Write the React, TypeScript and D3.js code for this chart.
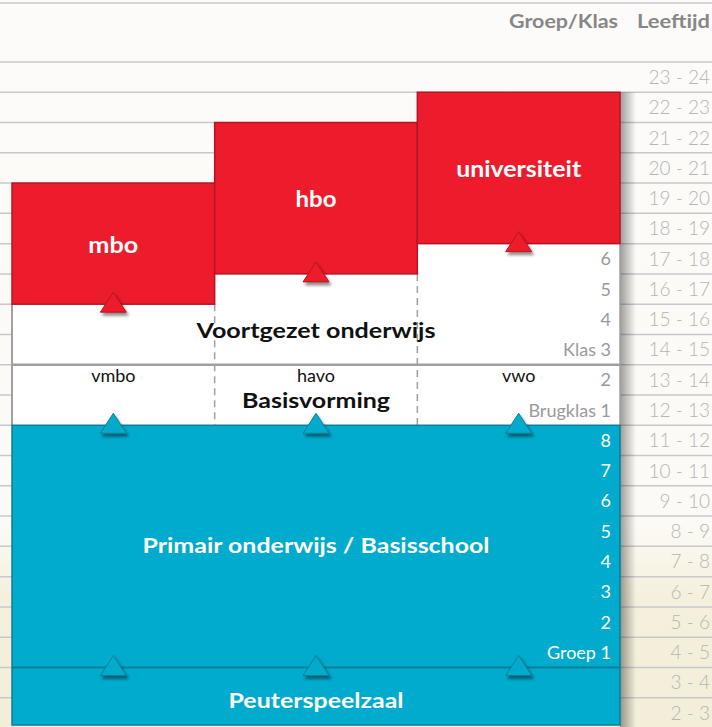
import * as d3 from "d3";

// age rows (lower bound of each one-year band), top to bottom
const ageRows = [23, 22, 21, 20, 19, 18, 17, 16, 15, 14, 13, 12, 11, 10, 9, 8, 7, 6, 5, 4, 3, 2];
const ageLabels = [
  "23 - 24", "22 - 23", "21 - 22", "20 - 21", "19 - 20", "18 - 19", "17 - 18", "16 - 17",
  "15 - 16", "14 - 15", "13 - 14", "12 - 13", "11 - 12", "10 - 11", "9 - 10", "8 - 9",
  "7 - 8", "6 - 7", "5 - 6", "4 - 5", "3 - 4", "2 - 3",
];

const tracks = ["vmbo", "havo", "vwo"];

// higher education blocks: start / end age
const higherNames = ["mbo", "hbo", "universiteit"];
const higherFrom = [16, 17, 18];
const higherTo = [20, 22, 23];

// klas labels in secondary school
const klasAges = [17, 16, 15, 14, 13, 12];
const klasLabels = ["6", "5", "4", "Klas 3", "2", "Brugklas 1"];

// groep labels in primary school
const groepAges = [11, 10, 9, 8, 7, 6, 5, 4];
const groepLabels = ["8", "7", "6", "5", "4", "3", "2", "Groep 1"];

const RED = "#ed1c2c";
const RED_DARK = "#b51424";
const BLUE = "#00abcd";
const BLUE_DARK = "#0a7f98";
const FONT = "Lato, 'Open Sans', sans-serif";

// rendered widths of the bold labels (Gill Sans is wider than Lato)
const higherWidths = [50, 41, 125];

export default function App() {
  const W = 712;
  const H = 727;
  const y = d3.scaleLinear().domain([24, 2]).range([62, 728]);
  const x = d3.scaleBand().domain(tracks).range([12, 620]);
  const left = 12;
  const right = 620;
  const cx = (t: string) => (x(t) ?? 0) + x.bandwidth() / 2;

  const tri = (px: number, py: number) =>
    d3.line()([
      [px - 13, py + 8],
      [px, py - 12],
      [px + 13, py + 8],
      [px - 13, py + 8],
    ]) as string;

  return (
    <svg width={W} height={H} style={{ display: "block", position: "absolute", left: 0, top: 0 }}>
      <defs>
        <linearGradient id="bg" x1="0" y1="0" x2="0" y2="1">
          <stop offset="0" stopColor="#fcfbf9" />
          <stop offset="0.72" stopColor="#fbfaf6" />
          <stop offset="0.82" stopColor="#f5f0dd" />
          <stop offset="1" stopColor="#f3eed8" />
        </linearGradient>
        <linearGradient id="sh" x1="0" y1="0" x2="1" y2="0">
          <stop offset="0" stopColor="#000" stopOpacity="0.38" />
          <stop offset="1" stopColor="#000" stopOpacity="0" />
        </linearGradient>
        <filter id="ds" x="-50%" y="-50%" width="200%" height="200%">
          <feDropShadow dx="2" dy="3" stdDeviation="1.8" floodColor="#000" floodOpacity="0.45" />
        </filter>
      </defs>

      <rect width={W} height={H} fill="url(#bg)" />

      {/* header */}
      <line x1={0} x2={W} y1={3} y2={3} stroke="#c8c8cc" strokeWidth={1.5} />
      <text x={618} y={28} textAnchor="end" fill="#878787" fontFamily={FONT} fontWeight={700} fontSize={19} textLength={109} lengthAdjust="spacingAndGlyphs">
        Groep/Klas
      </text>
      <text x={710} y={28} textAnchor="end" fill="#878787" fontFamily={FONT} fontWeight={700} fontSize={19} textLength={73} lengthAdjust="spacingAndGlyphs">
        Leeftijd
      </text>

      {/* row lines */}
      <line x1={0} x2={W} y1={y(24)} y2={y(24)} stroke="#c8c8cc" strokeWidth={1.5} />
      {ageRows.map((a) => (
        <line key={a} x1={0} x2={W} y1={y(a)} y2={y(a)} stroke="#c8c8cc" strokeWidth={1.5} />
      ))}
      {ageRows.map((a, i) => (
        <text
          key={"l" + a}
          x={710}
          y={y(a + 0.5)}
          dy="0.36em"
          textAnchor="end"
          fill="#b5b5b5"
          fontFamily={FONT}
          fontWeight={300}
          fontSize={19}
        >
          {ageLabels[i]}
        </text>
      ))}

      {/* shadow right of the stack */}
      <rect x={right} y={y(23)} width={16} height={H - y(23)} fill="url(#sh)" />

      {/* secondary school (white) */}
      <rect x={left} y={y(18)} width={right - left} height={y(12) - y(18)} fill="#ffffff" />
      <line x1={left} x2={left} y1={y(16)} y2={y(12)} stroke="#a0a0a0" strokeWidth={2} />
      <line x1={right} x2={right} y1={y(18)} y2={y(12)} stroke="#a0a0a0" strokeWidth={1.5} />
      <line x1={left} x2={right} y1={y(14)} y2={y(14)} stroke="#a0a0a0" strokeWidth={2.5} />
      {tracks.slice(1).map((t, i) => (
        <line
          key={t}
          x1={x(t)}
          x2={x(t)}
          y1={y(Math.min(higherFrom[i], higherFrom[i + 1]))}
          y2={y(12)}
          stroke="#a0a0a0"
          strokeWidth={1.5}
          strokeDasharray="7 5"
        />
      ))}
      {tracks.map((t) => (
        <text key={t} x={cx(t)} y={y(13.5) + 2} textAnchor="middle" fill="#111" fontFamily={FONT} fontSize={18}>
          {t}
        </text>
      ))}
      <text x={(left + right) / 2} y={y(15) + 4} textAnchor="middle" fill="#111" fontFamily={FONT} fontWeight={700} fontSize={21} textLength={239} lengthAdjust="spacingAndGlyphs">
        Voortgezet onderwijs
      </text>
      <text x={(left + right) / 2} y={y(12.56)} textAnchor="middle" fill="#111" fontFamily={FONT} fontWeight={700} fontSize={21} textLength={148} lengthAdjust="spacingAndGlyphs">
        Basisvorming
      </text>
      {klasAges.map((a, i) => (
        <text key={"k" + a} x={611} y={y(a + 0.5)} dy="0.36em" textAnchor="end" fill="#9a9a9a" fontFamily={FONT} fontSize={18}>
          {klasLabels[i]}
        </text>
      ))}

      {/* higher education (red) */}
      {higherNames.map((n, i) => (
        <rect
          key={n}
          x={x(tracks[i])}
          y={y(higherTo[i])}
          width={x.bandwidth()}
          height={y(higherFrom[i]) - y(higherTo[i])}
          fill={RED}
          stroke={RED_DARK}
          strokeWidth={1.5}
        />
      ))}
      {higherNames.map((n, i) => (
        <text
          key={"t" + n}
          x={cx(tracks[i])}
          y={(y(higherTo[i]) + y(higherFrom[i])) / 2 + 9}
          textAnchor="middle"
          fill="#fff"
          fontFamily={FONT}
          fontWeight={700}
          fontSize={22}
          textLength={higherWidths[i]}
          lengthAdjust="spacingAndGlyphs"
        >
          {n}
        </text>
      ))}

      {/* primary school and playgroup (blue) */}
      <rect x={left} y={y(12)} width={right - left} height={y(2) - y(12) - 3} fill={BLUE} stroke={BLUE_DARK} strokeWidth={1.5} />
      <line x1={left} x2={right} y1={y(4)} y2={y(4)} stroke={BLUE_DARK} strokeWidth={2} />
      <text x={(left + right) / 2} y={y(7.78)} textAnchor="middle" fill="#fff" fontFamily={FONT} fontWeight={700} fontSize={21} textLength={347} lengthAdjust="spacingAndGlyphs">
        Primair onderwijs / Basisschool
      </text>
      <text x={(left + right) / 2} y={y(2.66)} textAnchor="middle" fill="#fff" fontFamily={FONT} fontWeight={700} fontSize={21} textLength={175} lengthAdjust="spacingAndGlyphs">
        Peuterspeelzaal
      </text>
      {groepAges.map((a, i) => (
        <text key={"g" + a} x={611} y={y(a + 0.5)} dy="0.36em" textAnchor="end" fill="#fff" fontFamily={FONT} fontSize={18}>
          {groepLabels[i]}
        </text>
      ))}

      {/* transition arrows */}
      {tracks.map((t, i) => (
        <path key={"r" + t} d={tri(cx(t), y(higherFrom[i]))} fill={RED} stroke={RED_DARK} strokeWidth={1} filter="url(#ds)" />
      ))}
      {tracks.map((t) => (
        <path key={"b" + t} d={tri(cx(t), y(12))} fill={BLUE} stroke={BLUE_DARK} strokeWidth={1} filter="url(#ds)" />
      ))}
      {tracks.map((t) => (
        <path key={"p" + t} d={tri(cx(t), y(4))} fill={BLUE} stroke={BLUE_DARK} strokeWidth={1} filter="url(#ds)" />
      ))}
    </svg>
  );
}
